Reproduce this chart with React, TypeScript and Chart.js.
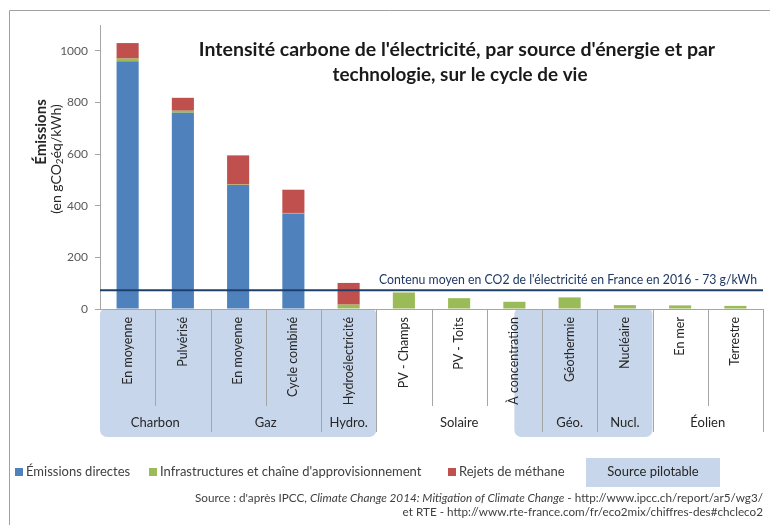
import React, { useEffect, useRef } from "react";
import { Chart, registerables } from "chart.js";

Chart.register(...registerables);

// ---------- DATA ----------
const categories = [
  "En moyenne",
  "Pulvérisé",
  "En moyenne",
  "Cycle combiné",
  "Hydroélectricité",
  "PV - Champs",
  "PV - Toits",
  "À concentration",
  "Géothermie",
  "Nucléaire",
  "En mer",
  "Terrestre",
];
const groupLabels = ["Charbon", "Gaz", "Hydro.", "Solaire", "Géo.", "Nucl.", "Éolien"];
const groupStart = [0, 2, 4, 5, 8, 9, 10];
const groupEnd = [1, 3, 4, 7, 8, 9, 11];

const emissionsDirectes = [960, 760, 480, 370, 0, 0, 0, 0, 0, 0, 0, 0];
const infrastructures = [10, 8, 2, 2, 17, 64, 42, 28, 45, 15, 14, 12];
const rejetsMethane = [60, 50, 113, 90, 84, 0, 0, 0, 0, 0, 0, 0];

// pilotable source ranges, in category-index units
const pilotableFrom = [-0.5, 7];
const pilotableTo = [4.5, 9.5];

const yMin = 0;
const yMax = 1100;
const yStep = 200;
const franceAverage = 73;

const titleLines = [
  "Intensité carbone de l'électricité, par source d'énergie et par",
  "technologie, sur le cycle de vie",
];
const averageLabel = "Contenu moyen en CO2 de l'électricité en France en 2016 - 73 g/kWh";
const yTitle = "Émissions";
const yUnitParts = ["(en gCO", "2", "éq/kWh)"];
const legendLabels = [
  "Émissions directes",
  "Infrastructures et chaîne d'approvisionnement",
  "Rejets de méthane",
];
const pilotableLabel = "Source pilotable";
const sourceLine1 = [
  { t: "Source : d'après IPCC, ", i: false },
  { t: "Climate Change 2014: Mitigation of Climate Change", i: true },
  { t: " - http://www.ipcc.ch/report/ar5/wg3/", i: false },
];
const sourceLine2 = "et RTE - http://www.rte-france.com/fr/eco2mix/chiffres-des#chcleco2";

// ---------- STYLE ----------
const FONT = "Lato";
const BLUE = "#4F81BD";
const GREEN = "#9BBB59";
const RED = "#C0504D";
const BOX = "#C7D6EA";
const AXIS = "#A6A6A6";
const TEXT = "#262626";
const LINE = "#1F3F6B";

function txt(
  ctx: CanvasRenderingContext2D,
  s: string,
  x: number,
  y: number,
  font: string,
  color: string,
  align: CanvasTextAlign,
  maxWidth?: number
) {
  ctx.font = font;
  ctx.fillStyle = color;
  ctx.textAlign = align;
  ctx.textBaseline = "middle";
  if (maxWidth) ctx.fillText(s, x, y, maxWidth);
  else ctx.fillText(s, x, y);
}

const decorPlugin = {
  id: "decor",
  beforeDraw(chart: any) {
    const ctx: CanvasRenderingContext2D = chart.ctx;
    const xs = chart.scales.x;
    const bottom = chart.chartArea.bottom;
    ctx.save();
    ctx.fillStyle = "#ffffff";
    ctx.fillRect(0, 0, chart.width, chart.height);
    // outer frame (top and left edges)
    ctx.strokeStyle = "#A0A0A0";
    ctx.lineWidth = 1;
    ctx.beginPath();
    ctx.moveTo(770, 10.5);
    ctx.lineTo(9.5, 10.5);
    ctx.lineTo(9.5, 525);
    ctx.stroke();
    // pilotable boxes
    ctx.fillStyle = BOX;
    for (let k = 0; k < pilotableFrom.length; k++) {
      const x0 = xs.getPixelForValue(pilotableFrom[k]);
      const x1 = xs.getPixelForValue(pilotableTo[k]);
      ctx.beginPath();
      (ctx as any).roundRect(x0, bottom, x1 - x0, 128, [5, 5, 7, 7]);
      ctx.fill();
    }
    // separators
    ctx.strokeStyle = AXIS;
    for (let i = 0; i < categories.length; i++) {
      const isGroupEnd = groupEnd.indexOf(i) >= 0;
      const x = Math.round(xs.getPixelForValue(i + 0.5)) + 0.5;
      ctx.beginPath();
      ctx.moveTo(x, bottom);
      ctx.lineTo(x, bottom + (isGroupEnd ? 123 : 97));
      ctx.stroke();
    }
    ctx.restore();
  },
  afterDraw(chart: any) {
    const ctx: CanvasRenderingContext2D = chart.ctx;
    const xs = chart.scales.x;
    const ys = chart.scales.y;
    const { left, right, bottom } = chart.chartArea;
    ctx.save();

    // average line
    const ly = ys.getPixelForValue(franceAverage);
    ctx.strokeStyle = LINE;
    ctx.lineWidth = 2;
    ctx.beginPath();
    ctx.moveTo(left, ly);
    ctx.lineTo(right, ly);
    ctx.stroke();
    txt(ctx, averageLabel, 379, ly - 10, `12.5px ${FONT}`, "#1F3864", "left", 378);

    // title
    txt(ctx, titleLines[0], 457, 50, `bold 19.5px ${FONT}`, "#1a1a1a", "center", 548);
    txt(ctx, titleLines[1], 460, 75, `bold 19.5px ${FONT}`, "#1a1a1a", "center", 255);

    // y title
    ctx.save();
    ctx.translate(41, 132);
    ctx.rotate(-Math.PI / 2);
    txt(ctx, yTitle, 0, 0, `bold 15px ${FONT}`, TEXT, "center");
    ctx.restore();

    ctx.save();
    ctx.translate(56, 159);
    ctx.rotate(-Math.PI / 2);
    ctx.font = `14px ${FONT}`;
    const w0 = ctx.measureText(yUnitParts[0]).width;
    const w2 = ctx.measureText(yUnitParts[2]).width;
    ctx.font = `10px ${FONT}`;
    const w1 = ctx.measureText(yUnitParts[1]).width;
    const tot = w0 + w1 + w2;
    let cx = -tot / 2;
    txt(ctx, yUnitParts[0], cx, 0, `14px ${FONT}`, TEXT, "left");
    cx += w0;
    txt(ctx, yUnitParts[1], cx, 3.5, `10px ${FONT}`, TEXT, "left");
    cx += w1;
    txt(ctx, yUnitParts[2], cx, 0, `14px ${FONT}`, TEXT, "left");
    ctx.restore();

    // category labels (rotated)
    for (let i = 0; i < categories.length; i++) {
      const x = xs.getPixelForValue(i);
      ctx.save();
      ctx.translate(x, bottom + 8);
      ctx.rotate(-Math.PI / 2);
      txt(ctx, categories[i], 0, 0, `12.5px ${FONT}`, TEXT, "right");
      ctx.restore();
    }
    // group labels
    for (let g = 0; g < groupLabels.length; g++) {
      const x0 = xs.getPixelForValue(groupStart[g] - 0.5);
      const x1 = xs.getPixelForValue(groupEnd[g] + 0.5);
      txt(ctx, groupLabels[g], (x0 + x1) / 2, bottom + 114, `13px ${FONT}`, TEXT, "center");
    }

    // legend
    const legendColors = [BLUE, GREEN, RED];
    const sqX = [15, 149, 448];
    const lyy = 472;
    for (let k = 0; k < 3; k++) {
      ctx.fillStyle = legendColors[k];
      ctx.fillRect(sqX[k], lyy - 4, 8, 8);
      txt(ctx, legendLabels[k], sqX[k] + 11, lyy, `13px ${FONT}`, "#404040", "left", 280);
    }
    ctx.fillStyle = BOX;
    ctx.fillRect(586, 458, 134, 29);
    txt(ctx, pilotableLabel, 653, lyy, `13px ${FONT}`, "#262626", "center");

    // source
    const measure = (parts: { t: string; i: boolean }[]) =>
      parts.map((p) => {
        ctx.font = `${p.i ? "italic " : ""}10.5px ${FONT}`;
        return ctx.measureText(p.t).width;
      });
    const w1a = measure(sourceLine1);
    const W1 = w1a.reduce((a, b) => a + b, 0);
    const scale = 568 / W1;
    const drawRight = (parts: { t: string; i: boolean }[], rx: number, y: number) => {
      const widths = measure(parts);
      const W = widths.reduce((a, b) => a + b, 0);
      ctx.save();
      ctx.translate(rx, y);
      ctx.scale(scale, 1);
      let x = -W;
      parts.forEach((p, idx) => {
        txt(ctx, p.t, x, 0, `${p.i ? "italic " : ""}10.5px ${FONT}`, "#404040", "left");
        x += widths[idx];
      });
      ctx.restore();
    };
    drawRight(sourceLine1, 763, 499);
    drawRight([{ t: sourceLine2, i: false }], 763, 513);

    ctx.restore();
  },
};

export default function App() {
  const ref = useRef<HTMLCanvasElement | null>(null);
  useEffect(() => {
    if (!ref.current) return;
    const chart = new Chart(ref.current, {
      type: "bar",
      data: {
        labels: categories,
        datasets: [
          { label: legendLabels[0], data: emissionsDirectes, backgroundColor: BLUE },
          { label: legendLabels[1], data: infrastructures, backgroundColor: GREEN },
          { label: legendLabels[2], data: rejetsMethane, backgroundColor: RED },
        ],
      },
      options: {
        responsive: false,
        animation: false,
        devicePixelRatio: 1,
        layout: { padding: { left: 0, right: 7, top: 25, bottom: 87 } },
        plugins: {
          legend: { display: false },
          title: { display: false },
          tooltip: { enabled: false },
        },
        datasets: { bar: { categoryPercentage: 1, barPercentage: 0.4 } },
        scales: {
          x: {
            stacked: true,
            offset: true,
            ticks: { display: false },
            grid: { display: false },
            border: { display: true, color: AXIS },
            afterFit: (s: any) => {
              s.height = 129;
            },
          },
          y: {
            stacked: true,
            min: yMin,
            max: yMax,
            ticks: {
              stepSize: yStep,
              includeBounds: false,
              padding: 7,
              color: "#595959",
              font: { family: FONT, size: 12 },
              callback: (v: any) => String(v),
            },
            grid: { drawOnChartArea: false, drawTicks: true, tickLength: 5, color: AXIS },
            border: { display: true, color: AXIS },
            afterFit: (s: any) => {
              s.width = 100;
            },
          },
        },
      } as any,
      plugins: [decorPlugin],
    });
    return () => chart.destroy();
  }, []);
  return (
    <div style={{ position: "fixed", left: 0, top: 0, width: 770, height: 525, background: "#fff" }}>
      <canvas ref={ref} width={770} height={525} style={{ display: "block" }} />
    </div>
  );
}
